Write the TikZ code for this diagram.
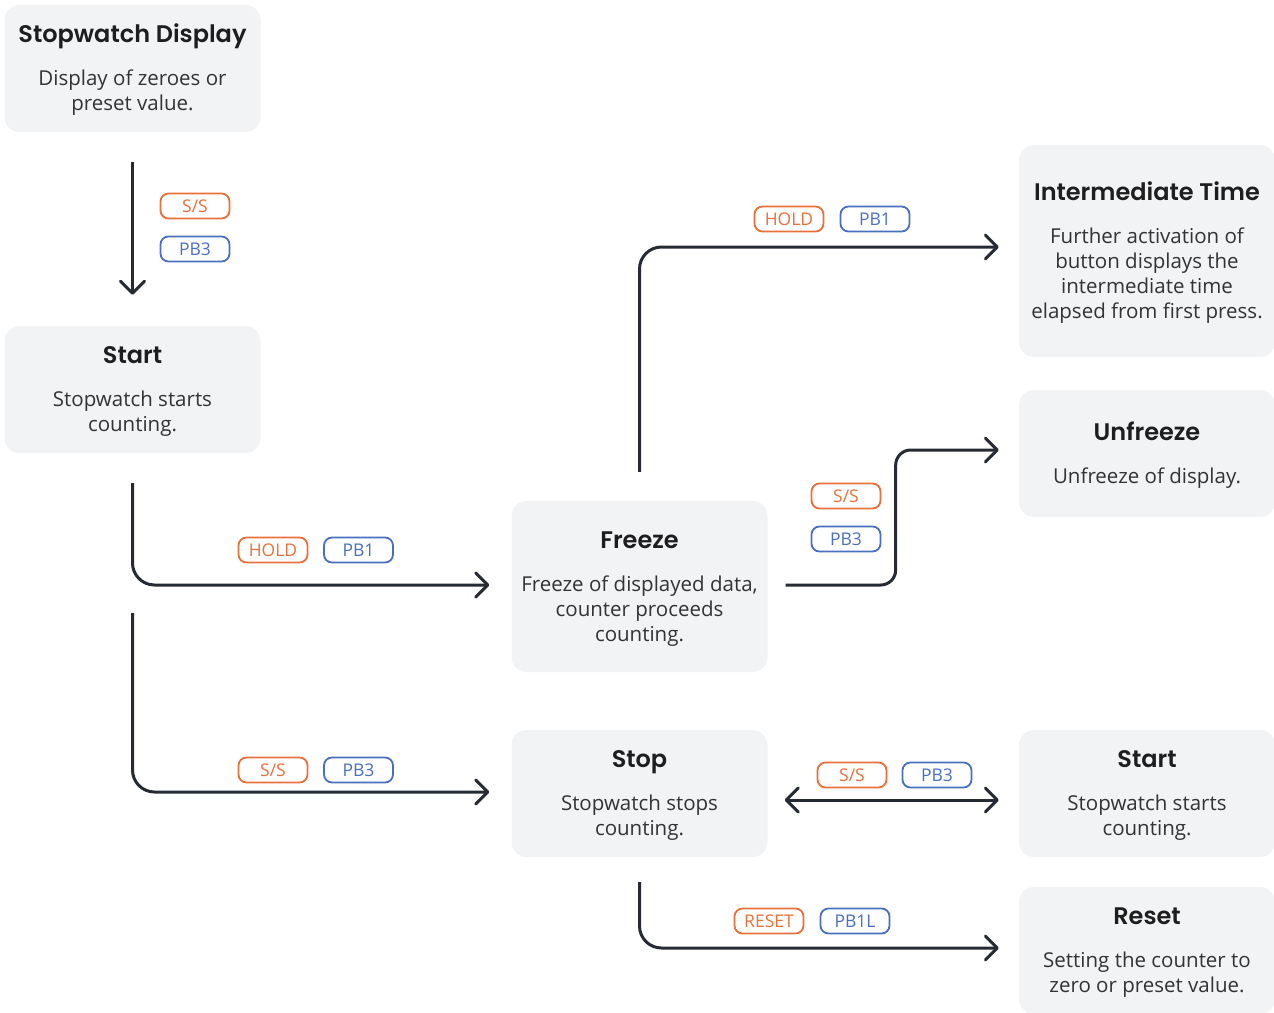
\documentclass[tikz,border=0pt]{standalone}
\usepackage{fontspec}
\setmainfont{Open Sans}
\newfontfamily\titlef{Poppins}[BoldFont={Poppins SemiBold}]
\usetikzlibrary{arrows.meta}
\definecolor{boxfill}{HTML}{F2F3F5}
\definecolor{ink}{HTML}{262A33}
\definecolor{tagor}{HTML}{E8703A}
\definecolor{tagbl}{HTML}{4A6FBE}
\definecolor{titlec}{HTML}{1E1E1E}
\definecolor{bodyc}{HTML}{333333}
\begin{document}
\begin{tikzpicture}[x=1pt,y=-1pt,
 >={Straight Barb[length=12pt,width=24pt,round]},
 card/.style={fill=boxfill, rounded corners=15pt, minimum width=256pt, inner sep=0pt},
 ttl/.style={anchor=base, font=\titlef\bfseries\fontsize{24}{28}\selectfont, text=titlec, inner sep=0pt},
 bdy/.style={anchor=base, align=center, font=\fontsize{20.5}{25}\selectfont, text=bodyc, inner sep=0pt},
 tagbase/.style={draw, line width=1.8pt, rounded corners=8pt, minimum width=69pt, minimum height=25pt, inner sep=0pt, font=\fontsize{17.5}{17.5}\selectfont},
 tago/.style={tagbase, draw=tagor, text=tagor},
 tagb/.style={tagbase, draw=tagbl, text=tagbl},
 conn/.style={draw=ink, line width=3pt, ->, rounded corners=22pt},
 dconn/.style={draw=ink, line width=3pt, <->},
]
\useasboundingbox (0,0) rectangle (1274,1012);

% cards
\node[card, minimum height=127pt] (disp) at (132.5,68.5) {};
\node[card, minimum height=127pt] (start1) at (132.5,389.5) {};
\node[card, minimum height=171pt] (freeze) at (639.5,586.5) {};
\node[card, minimum height=212pt] (inter) at (1147,251) {};
\node[card, minimum height=127pt] (unfreeze) at (1147,453.5) {};
\node[card, minimum height=127pt] (stop) at (639.5,793.5) {};
\node[card, minimum height=127pt] (start2) at (1147,793.5) {};
\node[card, minimum height=127pt] (reset) at (1147,950.5) {};

% texts (body node base = last line baseline)
\node[ttl] (disp-t) at ([yshift=26pt]disp.center) {Stopwatch Display};
\node[bdy] (disp-b) at ([yshift=-41.5pt]disp.center) {Display of zeroes or\\preset value.};
\node[ttl] (start1-t) at ([yshift=26pt]start1.center) {Start};
\node[bdy] (start1-b) at ([yshift=-41.5pt]start1.center) {Stopwatch starts\\counting.};
\node[ttl] (freeze-t) at ([yshift=38.5pt]freeze.center) {Freeze};
\node[bdy] (freeze-b) at ([yshift=-54.5pt]freeze.center) {Freeze of displayed data,\\counter proceeds\\counting.};
\node[ttl] (inter-t) at ([yshift=51pt]inter.center) {Intermediate Time};
\node[bdy] (inter-b) at ([yshift=-67pt]inter.center) {Further activation of\\button displays the\\intermediate time\\elapsed from first press.};
\node[ttl] (unfreeze-t) at ([yshift=13.5pt]unfreeze.center) {Unfreeze};
\node[bdy] (unfreeze-b) at ([yshift=-29.5pt]unfreeze.center) {Unfreeze of display.};
\node[ttl] (stop-t) at ([yshift=26pt]stop.center) {Stop};
\node[bdy] (stop-b) at ([yshift=-41.5pt]stop.center) {Stopwatch stops\\counting.};
\node[ttl] (start2-t) at ([yshift=26pt]start2.center) {Start};
\node[bdy] (start2-b) at ([yshift=-41.5pt]start2.center) {Stopwatch starts\\counting.};
\node[ttl] (reset-t) at ([yshift=26pt]reset.center) {Reset};
\node[bdy] (reset-b) at ([yshift=-41.5pt]reset.center) {Setting the counter to\\zero or preset value.};

% connectors
\draw[conn] ([yshift=-30pt]disp.south) -- ([yshift=31pt]start1.north);
\draw[conn] ([yshift=-30pt]start1.south) |- ([xshift=-22pt,yshift=1.5pt]freeze.west);
\draw[conn] ([yshift=-160pt]start1.south) |- ([xshift=-22pt,yshift=1.5pt]stop.west);
\draw[conn] ([yshift=29pt]freeze.north) |- ([xshift=-20pt,yshift=4pt]inter.west);
\draw[conn, rounded corners=15pt] ([xshift=18pt,yshift=1.5pt]freeze.east) -- ++(110pt,0) |- ([xshift=-20pt,yshift=3.5pt]unfreeze.west);
\draw[dconn] ([xshift=17pt,yshift=-6.5pt]stop.east) -- ([xshift=-20pt,yshift=-6.5pt]start2.west);
\draw[conn] ([yshift=-25pt]stop.south) |- ([xshift=-20pt,yshift=2.5pt]reset.west);

% tags
\node[tago] (t1a) at (195,206) {S/S};
\node[tagb] (t1b) at (195,249) {PB3};
\node[tago] (t2a) at (273,550) {HOLD};
\node[tagb] (t2b) at (358.5,550) {PB1};
\node[tago] (t3a) at (273,770) {S/S};
\node[tagb] (t3b) at (358.5,770) {PB3};
\node[tago] (t4a) at (789,219) {HOLD};
\node[tagb] (t4b) at (875,219) {PB1};
\node[tago] (t5a) at (846,496) {S/S};
\node[tagb] (t5b) at (846,539) {PB3};
\node[tago] (t6a) at (852,775) {S/S};
\node[tagb] (t6b) at (937,775) {PB3};
\node[tago] (t7a) at (769,921) {RESET};
\node[tagb] (t7b) at (855,921) {PB1L};
\end{tikzpicture}
\end{document}
